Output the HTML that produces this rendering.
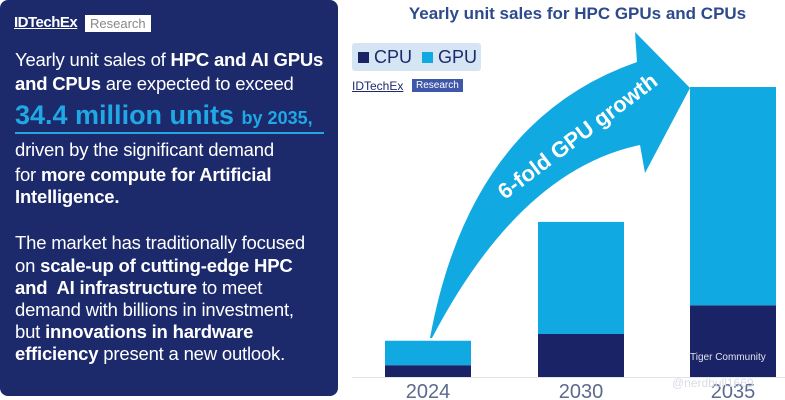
<!DOCTYPE html>
<html><head><meta charset="utf-8"><style>
body{margin:0;width:785px;height:400px;background:#fff;font-family:"Liberation Sans",sans-serif;overflow:hidden;position:relative}
#panel{position:absolute;left:0;top:0;width:338px;height:396px;background:#1c2a6c;border-radius:8px;color:#fff}
.ln{position:absolute;left:15px;font-size:18.5px;white-space:nowrap;letter-spacing:-0.2px}
b{font-weight:bold}
</style></head><body>
<div id="panel">
  <div style="position:absolute;left:14px;top:14px;font-size:15px;font-weight:bold;text-decoration:underline;letter-spacing:-0.5px">IDTechEx</div>
  <div style="position:absolute;left:85px;top:15px;background:#fff;color:#888;font-size:13px;padding:1px 5px">Research</div>
  <div class="ln" style="top:49px">Yearly unit sales of <b>HPC and AI GPUs</b></div>
  <div class="ln" style="top:73px"><b>and CPUs</b> are expected to exceed</div>
  <div class="ln" style="top:100px;color:#1fa8e4;font-weight:bold;font-size:27px;letter-spacing:0">34.4 million units <span style="font-size:18px">by 2035,</span></div>
  <div style="position:absolute;left:15px;top:132px;width:309px;height:2px;background:#1fa8e4"></div>
  <div class="ln" style="top:139px">driven by the significant demand</div>
  <div class="ln" style="top:164px">for <b>more compute for Artificial</b></div>
  <div class="ln" style="top:186px"><b>Intelligence.</b></div>
  <div class="ln" style="top:232px">The market has traditionally focused</div>
  <div class="ln" style="top:255px">on <b>scale-up of cutting-edge HPC</b></div>
  <div class="ln" style="top:277px"><b>and&nbsp; AI infrastructure</b> to meet</div>
  <div class="ln" style="top:299px">demand with billions in investment,</div>
  <div class="ln" style="top:321px">but <b>innovations in hardware</b></div>
  <div class="ln" style="top:343px"><b>efficiency</b> present a new outlook.</div>
</div>
<div style="position:absolute;left:370px;top:4px;width:415px;text-align:center;font-size:17px;font-weight:bold;color:#2d4a8c">Yearly unit sales for HPC GPUs and CPUs</div>
<div style="position:absolute;left:352px;top:43px;width:129px;height:28px;background:#d5e5f4;border-radius:3px;font-size:18px;color:#1c2a6c;line-height:28px">
  <span style="position:absolute;left:6px"><span style="display:inline-block;width:11px;height:11px;background:#1a2366"></span> CPU</span>
  <span style="position:absolute;left:70px"><span style="display:inline-block;width:11px;height:11px;background:#10a9e2"></span> GPU</span>
</div>
<div style="position:absolute;left:352px;top:79px;font-size:12px;color:#1c2a6c;text-decoration:underline">IDTechEx</div>
<div style="position:absolute;left:412px;top:79px;background:#3f57a8;color:#fff;font-size:10px;padding:1px 4px">Research</div>
<svg id="chart" width="785" height="400" style="position:absolute;left:0;top:0">
</svg>
<script>
const years=["2024","2030","2035"];
const cpu=[1.4,5.1,8.5];
const gpu=[2.9,13.3,25.9];
const NS="http://www.w3.org/2000/svg";
const svg=document.getElementById('chart');
const base=377, scale=8.43;
const xs=[385,538,690], bw=86;
function y(v){return base-v*scale;}
function mk(t,a){const e=document.createElementNS(NS,t);for(const k in a)e.setAttribute(k,a[k]);svg.appendChild(e);return e;}
const ax=mk('line',{x1:352,x2:785,y1:base+0.5,y2:base+0.5,stroke:'#e2e4ea','stroke-width':1});


years.forEach((yr,i)=>{
  const c=mk('rect',{x:xs[i],y:y(cpu[i]),width:bw,height:cpu[i]*scale,fill:'#1a2366'});
  
  
  const g=mk('rect',{x:xs[i],y:y(cpu[i]+gpu[i]),width:bw,height:gpu[i]*scale,fill:'#10a9e2'});
  
  
  const t=mk('text',{x:xs[i]+bw/2,y:398,'text-anchor':'middle','font-size':20,fill:'#5b6a8e','font-family':'Liberation Sans, sans-serif'});
  t.textContent=yr;
  
  
});
const ar=mk('path',{d:'M430,338 Q470,120 637,62 L635,32 L690,88 L645,173 L640,145 Q520,170 432,338 Z',fill:'#10a9e2'});


const at=mk('text',{x:0,y:0,transform:'translate(582,142) rotate(-37)','text-anchor':'middle','font-size':22,'font-weight':'bold',fill:'#fff','font-family':'Liberation Sans, sans-serif'});
at.textContent='6-fold GPU growth';


const wm=mk('text',{x:690,y:360,'font-size':10,fill:'#dfe3ec','font-family':'Liberation Sans, sans-serif'});
wm.textContent='Tiger Community';


const wm2=mk('text',{x:672,y:387,'font-size':12,fill:'#d8dce6','font-family':'Liberation Sans, sans-serif'});
wm2.textContent='@nerdbull1669';


</script>
</body></html>
